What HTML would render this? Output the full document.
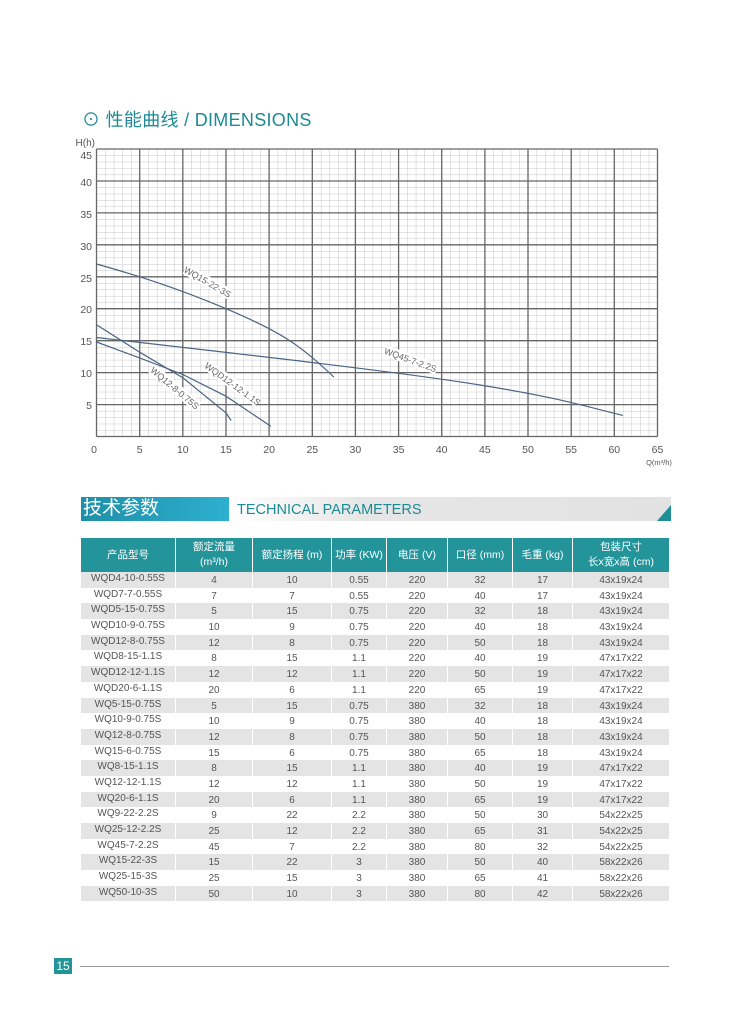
<!DOCTYPE html>
<html><head><meta charset="utf-8"><style>
body{margin:0;background:#fff;width:750px;height:1017px;position:relative;font-family:"Liberation Sans","Noto Sans CJK SC",sans-serif;overflow:hidden}
.t{position:absolute}
.tb{position:absolute;left:81px;top:538px;width:588px}
.r{display:flex;height:15.7px;overflow:hidden}
.r div{flex:none;border-left:1px solid #fff;box-sizing:border-box;text-align:center;font-size:10px;color:#555;line-height:18px;height:15.7px;overflow:hidden}
.r div:first-child{border-left:none;line-height:14px}
.r:nth-child(odd) div{background:#e4e4e4}
.h{display:flex;height:34px}
.h div{flex:none;background:#24949b;color:#fff;font-size:10.5px;line-height:15px;border-left:1px solid #fff;box-sizing:border-box;text-align:center;display:flex;align-items:center;justify-content:center}
.h div:first-child{border-left:none}
.c1{width:94px}.c2{width:77px}.c3{width:79px}.c4{width:55px}.c5{width:61px}.c6{width:65px}.c7{width:60px}.c8{width:97px}
</style></head><body>
<div class="t" style="left:82px;top:106px;font-size:18px;color:#1d8a94;letter-spacing:0.3px">⊙ 性能曲线 / DIMENSIONS</div>
<svg class="t" style="left:0;top:0" width="750" height="480">
<defs>
<pattern id="mx" x="96.5" y="0" width="8.63" height="10" patternUnits="userSpaceOnUse"><line x1="0" y1="0" x2="0" y2="10" stroke="#bbb" stroke-width="0.8"/></pattern>
<pattern id="my" x="0" y="149" width="10" height="6.389" patternUnits="userSpaceOnUse"><line x1="0" y1="0" x2="10" y2="0" stroke="#bbb" stroke-width="0.8"/></pattern>
</defs>
<rect x="96.5" y="149" width="561" height="287.5" fill="url(#mx)"/>
<rect x="96.5" y="149" width="561" height="287.5" fill="url(#my)"/>
<g stroke="#666" stroke-width="1.3">
<line x1="96.5" y1="149" x2="96.5" y2="436.5"/><line x1="139.7" y1="149" x2="139.7" y2="436.5"/><line x1="182.8" y1="149" x2="182.8" y2="436.5"/><line x1="226" y1="149" x2="226" y2="436.5"/><line x1="269.1" y1="149" x2="269.1" y2="436.5"/><line x1="312.3" y1="149" x2="312.3" y2="436.5"/><line x1="355.4" y1="149" x2="355.4" y2="436.5"/><line x1="398.6" y1="149" x2="398.6" y2="436.5"/><line x1="441.7" y1="149" x2="441.7" y2="436.5"/><line x1="484.9" y1="149" x2="484.9" y2="436.5"/><line x1="528" y1="149" x2="528" y2="436.5"/><line x1="571.2" y1="149" x2="571.2" y2="436.5"/><line x1="614.3" y1="149" x2="614.3" y2="436.5"/><line x1="657.5" y1="149" x2="657.5" y2="436.5"/>
<line x1="96.5" y1="149" x2="657.5" y2="149"/><line x1="96.5" y1="181" x2="657.5" y2="181"/><line x1="96.5" y1="212.9" x2="657.5" y2="212.9"/><line x1="96.5" y1="244.8" x2="657.5" y2="244.8"/><line x1="96.5" y1="276.8" x2="657.5" y2="276.8"/><line x1="96.5" y1="308.7" x2="657.5" y2="308.7"/><line x1="96.5" y1="340.7" x2="657.5" y2="340.7"/><line x1="96.5" y1="372.6" x2="657.5" y2="372.6"/><line x1="96.5" y1="404.6" x2="657.5" y2="404.6"/><line x1="96.5" y1="436.5" x2="657.5" y2="436.5"/>
</g>
<g fill="none" stroke="#4a6585" stroke-width="1.2">
<path d="M96.5,264 C125,272 170,285 226,308.7 S300,345 333.8,377"/>
<path d="M96.5,337.5 C250,355 400,372 480,385 S580,405 622.9,415.4"/>
<path d="M96.5,342 L139.7,357.9 L182.8,374.5 L226,396.2 L270.8,426.3"/>
<path d="M96.5,324.7 L139.7,352.2 L182.8,377.7 L226,412.9 L231.1,420.5"/>
</g>
<g font-size="9" fill="#666">
<g transform="translate(207,283) rotate(30)"><rect x="-26" y="-7" width="52" height="11" fill="#fff"/><text text-anchor="middle" y="2">WQ15-22-3S</text></g>
<g transform="translate(232,385) rotate(36)"><rect x="-31" y="-7" width="62" height="11" fill="#fff"/><text text-anchor="middle" y="2">WQD12-12-1.1S</text></g>
<g transform="translate(174,389) rotate(40)"><rect x="-30" y="-7" width="60" height="11" fill="#fff"/><text text-anchor="middle" y="2">WQ12-8-0.75S</text></g>
<g transform="translate(410,361) rotate(20)"><rect x="-28" y="-7" width="56" height="11" fill="#fff"/><text text-anchor="middle" y="2">WQ45-7-2.2S</text></g>
</g>
<g font-size="10.5" fill="#555" text-anchor="end">
<text x="92" y="159">45</text><text x="92" y="186">40</text><text x="92" y="218">35</text><text x="92" y="250">30</text><text x="92" y="282">25</text><text x="92" y="313">20</text><text x="92" y="345">15</text><text x="92" y="377">10</text><text x="92" y="409">5</text>
<text x="95" y="146" font-size="10">H(h)</text>
</g>
<g font-size="10.5" fill="#555" text-anchor="middle">
<text x="94" y="453">0</text><text x="139.7" y="453">5</text><text x="182.8" y="453">10</text><text x="226" y="453">15</text><text x="269.1" y="453">20</text><text x="312.3" y="453">25</text><text x="355.4" y="453">30</text><text x="398.6" y="453">35</text><text x="441.7" y="453">40</text><text x="484.9" y="453">45</text><text x="528" y="453">50</text><text x="571.2" y="453">55</text><text x="614.3" y="453">60</text><text x="657.5" y="453">65</text>
<text x="659" y="465" font-size="7.5">Q(m³/h)</text>
</g>
</svg>
<div class="t" style="left:230px;top:497px;width:441px;height:24px;background:linear-gradient(90deg,#fff,#e6e6e6 30%,#e2e2e2)"></div>
<svg class="t" style="left:657px;top:505px" width="14" height="16"><polygon points="14,0 14,16 0,16" fill="#1f8f97"/></svg>
<div class="t" style="left:81px;top:497px;width:148px;height:24px;background:linear-gradient(90deg,#1e8fa8,#2db0cf);"></div>
<div class="t" style="left:83px;top:497px;font-size:19px;line-height:24px;color:#fff">技术参数</div>
<div class="t" style="left:237px;top:501px;font-size:14.5px;line-height:18px;color:#1d8a94">TECHNICAL PARAMETERS</div>
<div class="tb">
<div class="h"><div class="c1">产品型号</div><div class="c2">额定流量<br>(m³/h)</div><div class="c3">额定扬程 (m)</div><div class="c4">功率 (KW)</div><div class="c5">电压 (V)</div><div class="c6">口径 (mm)</div><div class="c7">毛重 (kg)</div><div class="c8">包装尺寸<br>长x宽x高 (cm)</div></div>
<div>
<div class="r"><div class="c1">WQD4-10-0.55S</div><div class="c2">4</div><div class="c3">10</div><div class="c4">0.55</div><div class="c5">220</div><div class="c6">32</div><div class="c7">17</div><div class="c8">43x19x24</div></div>
<div class="r"><div class="c1">WQD7-7-0.55S</div><div class="c2">7</div><div class="c3">7</div><div class="c4">0.55</div><div class="c5">220</div><div class="c6">40</div><div class="c7">17</div><div class="c8">43x19x24</div></div>
<div class="r"><div class="c1">WQD5-15-0.75S</div><div class="c2">5</div><div class="c3">15</div><div class="c4">0.75</div><div class="c5">220</div><div class="c6">32</div><div class="c7">18</div><div class="c8">43x19x24</div></div>
<div class="r"><div class="c1">WQD10-9-0.75S</div><div class="c2">10</div><div class="c3">9</div><div class="c4">0.75</div><div class="c5">220</div><div class="c6">40</div><div class="c7">18</div><div class="c8">43x19x24</div></div>
<div class="r"><div class="c1">WQD12-8-0.75S</div><div class="c2">12</div><div class="c3">8</div><div class="c4">0.75</div><div class="c5">220</div><div class="c6">50</div><div class="c7">18</div><div class="c8">43x19x24</div></div>
<div class="r"><div class="c1">WQD8-15-1.1S</div><div class="c2">8</div><div class="c3">15</div><div class="c4">1.1</div><div class="c5">220</div><div class="c6">40</div><div class="c7">19</div><div class="c8">47x17x22</div></div>
<div class="r"><div class="c1">WQD12-12-1.1S</div><div class="c2">12</div><div class="c3">12</div><div class="c4">1.1</div><div class="c5">220</div><div class="c6">50</div><div class="c7">19</div><div class="c8">47x17x22</div></div>
<div class="r"><div class="c1">WQD20-6-1.1S</div><div class="c2">20</div><div class="c3">6</div><div class="c4">1.1</div><div class="c5">220</div><div class="c6">65</div><div class="c7">19</div><div class="c8">47x17x22</div></div>
<div class="r"><div class="c1">WQ5-15-0.75S</div><div class="c2">5</div><div class="c3">15</div><div class="c4">0.75</div><div class="c5">380</div><div class="c6">32</div><div class="c7">18</div><div class="c8">43x19x24</div></div>
<div class="r"><div class="c1">WQ10-9-0.75S</div><div class="c2">10</div><div class="c3">9</div><div class="c4">0.75</div><div class="c5">380</div><div class="c6">40</div><div class="c7">18</div><div class="c8">43x19x24</div></div>
<div class="r"><div class="c1">WQ12-8-0.75S</div><div class="c2">12</div><div class="c3">8</div><div class="c4">0.75</div><div class="c5">380</div><div class="c6">50</div><div class="c7">18</div><div class="c8">43x19x24</div></div>
<div class="r"><div class="c1">WQ15-6-0.75S</div><div class="c2">15</div><div class="c3">6</div><div class="c4">0.75</div><div class="c5">380</div><div class="c6">65</div><div class="c7">18</div><div class="c8">43x19x24</div></div>
<div class="r"><div class="c1">WQ8-15-1.1S</div><div class="c2">8</div><div class="c3">15</div><div class="c4">1.1</div><div class="c5">380</div><div class="c6">40</div><div class="c7">19</div><div class="c8">47x17x22</div></div>
<div class="r"><div class="c1">WQ12-12-1.1S</div><div class="c2">12</div><div class="c3">12</div><div class="c4">1.1</div><div class="c5">380</div><div class="c6">50</div><div class="c7">19</div><div class="c8">47x17x22</div></div>
<div class="r"><div class="c1">WQ20-6-1.1S</div><div class="c2">20</div><div class="c3">6</div><div class="c4">1.1</div><div class="c5">380</div><div class="c6">65</div><div class="c7">19</div><div class="c8">47x17x22</div></div>
<div class="r"><div class="c1">WQ9-22-2.2S</div><div class="c2">9</div><div class="c3">22</div><div class="c4">2.2</div><div class="c5">380</div><div class="c6">50</div><div class="c7">30</div><div class="c8">54x22x25</div></div>
<div class="r"><div class="c1">WQ25-12-2.2S</div><div class="c2">25</div><div class="c3">12</div><div class="c4">2.2</div><div class="c5">380</div><div class="c6">65</div><div class="c7">31</div><div class="c8">54x22x25</div></div>
<div class="r"><div class="c1">WQ45-7-2.2S</div><div class="c2">45</div><div class="c3">7</div><div class="c4">2.2</div><div class="c5">380</div><div class="c6">80</div><div class="c7">32</div><div class="c8">54x22x25</div></div>
<div class="r"><div class="c1">WQ15-22-3S</div><div class="c2">15</div><div class="c3">22</div><div class="c4">3</div><div class="c5">380</div><div class="c6">50</div><div class="c7">40</div><div class="c8">58x22x26</div></div>
<div class="r"><div class="c1">WQ25-15-3S</div><div class="c2">25</div><div class="c3">15</div><div class="c4">3</div><div class="c5">380</div><div class="c6">65</div><div class="c7">41</div><div class="c8">58x22x26</div></div>
<div class="r"><div class="c1">WQ50-10-3S</div><div class="c2">50</div><div class="c3">10</div><div class="c4">3</div><div class="c5">380</div><div class="c6">80</div><div class="c7">42</div><div class="c8">58x22x26</div></div>
</div>
</div>
<div class="t" style="left:54px;top:958px;width:18px;height:16px;background:#24949b;color:#fff;font-size:12px;line-height:16px;text-align:center">15</div>
<div class="t" style="left:80px;top:966px;width:589px;height:1px;background:#999"></div>
</body></html>
